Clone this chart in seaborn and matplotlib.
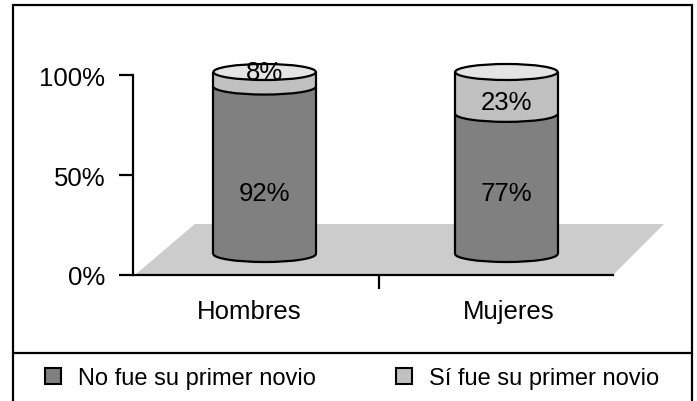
import numpy as np
import pandas as pd
import seaborn as sns
import matplotlib.pyplot as plt
from matplotlib.patches import Ellipse, Arc, Polygon, Rectangle, Patch
from matplotlib.lines import Line2D

# data
groups = ['Hombres', 'Mujeres']
no_primer = [0.92, 0.77]
si_primer = [0.08, 0.23]
series = ['No fue su primer novio', 'Sí fue su primer novio']
yticks = [0, 0.5, 1.0]
ytick_labels = ['0%', '50%', '100%']

dark = '#808080'
light = '#c0c0c0'
top_col = '#e4e4e4'
floor_col = '#cccccc'

sns.set_theme(style='white')
plt.rcParams['font.family'] = ['Liberation Sans', 'DejaVu Sans']

W, H = 697, 402
fig = plt.figure(figsize=(W / 100, H / 100), dpi=100)
fig.patch.set_facecolor('white')


def px_box(x0, x1, ytop, ybot):
    return [x0 / W, 1 - ybot / H, (x1 - x0) / W, (ybot - ytop) / H]


# front axis (ticks, spines, floor)
ax = fig.add_axes(px_box(133, 613, 76, 276))
ax.patch.set_visible(False)
ax.set_xlim(-0.45, 1.4035)
ax.set_ylim(0, 1)
floor = Polygon([(0.004, 0), (1.0, 0), (1.106, 0.255), (0.129, 0.255)],
                closed=True, transform=ax.transAxes, fc=floor_col, ec='none',
                clip_on=False, zorder=0.5)
ax.add_patch(floor)
for s in ['top', 'right']:
    ax.spines[s].set_visible(False)
for s in ['left', 'bottom']:
    ax.spines[s].set_color('black')
    ax.spines[s].set_linewidth(1.6)
ax.set_yticks(yticks, ytick_labels)
ax.tick_params(axis='y', left=True, length=10, width=1.6, pad=10,
               labelsize=18.5, colors='black', direction='out')
ax.set_xticks([0, 1], groups)
ax.set_xticks([0.5], minor=True)
ax.tick_params(axis='x', which='major', bottom=True, length=0, pad=17,
               labelsize=18.5, colors='black')
ax.tick_params(axis='x', which='minor', bottom=True, length=10, width=1.6,
               colors='black', direction='out')

# cylinders
ax3 = fig.add_axes(px_box(143.75, 627.25, 73, 255))
df = pd.DataFrame({'grupo': groups, 'no': no_primer,
                   'total': np.add(no_primer, si_primer)})
bw = 0.424
sns.barplot(data=df, x='grupo', y='total', color=light, width=bw, ax=ax3,
            saturation=1, linewidth=0)
sns.barplot(data=df, x='grupo', y='no', color=dark, width=bw, ax=ax3,
            saturation=1, linewidth=0)
ax3.set_xlim(-0.5, 1.5)
ax3.set_ylim(0, 1)
ax3.axis('off')

eh = 0.088
lw = 1.6
label_y_no = [0.335, 0.335]
label_y_si = [1.0, 0.835]
for i, bar in enumerate(ax3.containers[1]):
    cx = bar.get_x() + bar.get_width() / 2
    w = bar.get_width()
    v = no_primer[i]
    t = v + si_primer[i]
    ax3.add_patch(Ellipse((cx, 0), w, eh, fc=dark, ec='none', zorder=1.5, clip_on=False))
    ax3.add_patch(Arc((cx, 0), w, eh, theta1=180, theta2=360, ec='black', lw=lw,
                      zorder=3, clip_on=False))
    ax3.add_patch(Ellipse((cx, v), w, eh, fc=light, ec='none', zorder=2, clip_on=False))
    ax3.add_patch(Arc((cx, v), w, eh, theta1=180, theta2=360, ec='black', lw=lw,
                      zorder=3, clip_on=False))
    ax3.add_patch(Ellipse((cx, t), w, eh, fc=top_col, ec='black', lw=lw, zorder=3,
                          clip_on=False))
    for sx in (cx - w / 2, cx + w / 2):
        ax3.plot([sx, sx], [0, t], color='black', lw=lw, zorder=3, clip_on=False,
                 solid_capstyle='butt')
    ax3.text(cx, label_y_no[i], f'{round(v * 100)}%', ha='center', va='center',
             fontsize=18.5, color='black', zorder=4)
    ax3.text(cx, label_y_si[i], f'{round(si_primer[i] * 100)}%', ha='center',
             va='center', fontsize=18.5, color='black', zorder=4)

# outer frame and legend
fig.add_artist(Rectangle((13 / W, -0.1), (692 - 13) / W, 1 - 6 / H + 0.1,
                         transform=fig.transFigure, fill=False, ec='black', lw=1.6))
fig.add_artist(Line2D([13 / W, 692 / W], [1 - 354 / H] * 2, transform=fig.transFigure,
                      color='black', lw=1.6))
handles = [Patch(fc=dark, ec='black', lw=1.5, label=series[0]),
           Patch(fc=light, ec='black', lw=1.5, label=series[1])]
fig.legend(handles=handles, loc='center left', bbox_to_anchor=(45 / W, 1 - 379 / H),
           ncol=2, frameon=False, fontsize=17, handlelength=0.68, handleheight=0.68,
           handletextpad=0.72, columnspacing=3.39, borderpad=0, borderaxespad=0,
           labelcolor='black')

fig.savefig('out.png', dpi=100)
